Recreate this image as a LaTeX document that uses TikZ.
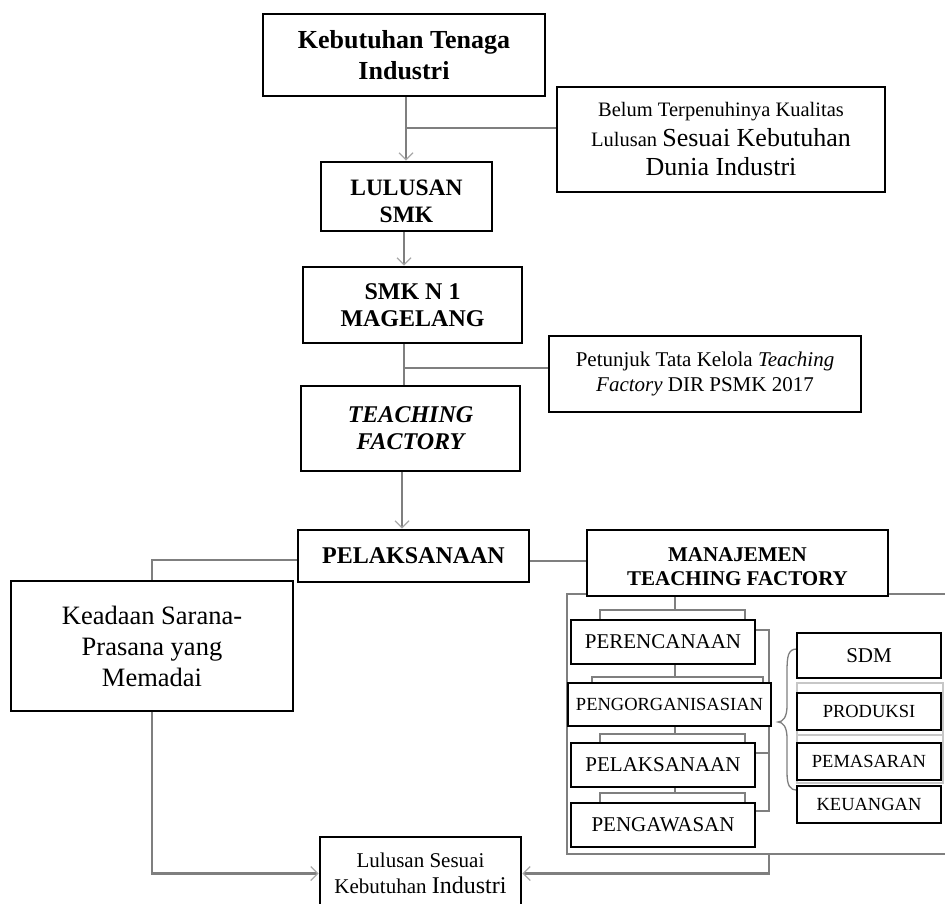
\documentclass[tikz,border=0pt]{standalone}
\usepackage{fontspec}
\setmainfont{Liberation Serif}
\usetikzlibrary{arrows.meta,backgrounds}
\definecolor{conngray}{HTML}{7F7F7F}
\definecolor{tipgray}{HTML}{A8A8A8}
\newcommand\myfs[2]{\fontsize{#1}{#2}\selectfont}
\begin{document}
\begin{tikzpicture}[x=1pt,y=-1pt,
  box/.style={draw=black,fill=white,line width=2.8pt,inner sep=0pt,align=center},
  sbox/.style={draw=black,fill=white,line width=2.4pt,inner sep=0pt,align=center},
  label text/.style={inner sep=0pt,align=center},
  connline/.style={draw=conngray,line width=2.4pt},
  thinline/.style={draw=conngray,line width=1.8pt},
  ghost/.style={draw=black!22,line width=1.4pt},
  arr/.style={connline,-{Straight Barb[length=7pt,width=14pt,line width=1.2pt,color=tipgray]}},
]
\useasboundingbox (0,0) rectangle (945,904);
\clip (0,0) rectangle (945,904);

% ---------- main nodes ----------
\node[box,minimum width=282pt,minimum height=82pt,font=\bfseries\myfs{26}{31}] (A) at (404,55) {Kebutuhan Tenaga\\Industri};
\node[box,minimum width=328pt,minimum height=105pt,font=\myfs{20.5}{29.5}] (B) at (721,139.5)
  {Belum Terpenuhinya Kualitas\\Lulusan {\myfs{26}{29.5}Sesuai Kebutuhan}\\{\myfs{26}{29.5}Dunia Industri}};
\node[box,minimum width=171pt,minimum height=69pt] (C) at (406.5,196.5) {};
\node[label text,font=\bfseries\myfs{23.5}{27}] (Ct) at ([yshift=-5pt]C.center) {LULUSAN\\SMK};
\node[box,minimum width=219pt,minimum height=76pt,font=\bfseries\myfs{24}{27}] (D) at (412.5,305) {SMK N 1\\MAGELANG};
\node[box,minimum width=312pt,minimum height=76pt,font=\myfs{21}{25}] (E) at (705,374)
  {Petunjuk Tata Kelola \textit{Teaching}\\\textit{Factory} DIR PSMK 2017};
\node[box,minimum width=219pt,minimum height=85pt,font=\bfseries\itshape\myfs{24}{27}] (F) at (410.5,428.5) {TEACHING\\FACTORY};
\node[box,minimum width=231pt,minimum height=52pt,font=\bfseries\myfs{24}{27}] (G) at (413.5,556) {PELAKSANAAN};
\node[box,minimum width=282pt,minimum height=130pt,font=\myfs{26.5}{31}] (H) at (152,646) {Keadaan Sarana-\\Prasana yang\\Memadai};
\node[box,minimum width=301pt,minimum height=66pt] (I) at (737.5,563) {};
\node[label text,font=\bfseries\myfs{21}{24}] (It) at ([yshift=-4pt]I.center) {MANAJEMEN\\TEACHING FACTORY};
\node[box,minimum width=201pt,minimum height=73pt,font=\myfs{21}{26}] (K) at (420.5,873.5)
  {Lulusan Sesuai\\Kebutuhan {\myfs{24}{26}Industri}};

% ---------- management panel ----------
\node[sbox,minimum width=184pt,minimum height=44pt,font=\myfs{21}{24}] (P1) at (663,642) {PERENCANAAN};
\node[sbox,minimum width=203pt,minimum height=43pt,font=\myfs{18.5}{22}] (P2) at (669.5,704.5) {PENGORGANISASIAN};
\node[sbox,minimum width=184pt,minimum height=44pt,font=\myfs{21}{24}] (P3) at (663,765) {PELAKSANAAN};
\node[sbox,minimum width=184pt,minimum height=44pt,font=\myfs{21}{24}] (P4) at (663,825) {PENGAWASAN};

\draw[ghost] (797,683) rectangle (943,735);
\draw[ghost] (797,735) rectangle (943,783);
\node[sbox,minimum width=144pt,minimum height=45pt,font=\myfs{21}{24}] (S1) at (869,655.5) {SDM};
\node[sbox,minimum width=144pt,minimum height=37pt,font=\myfs{18.5}{22}] (S2) at (869,711.5) {PRODUKSI};
\node[sbox,minimum width=144pt,minimum height=37pt,font=\myfs{18.5}{22}] (S3) at (869,761.5) {PEMASARAN};
\node[sbox,minimum width=144pt,minimum height=37pt,font=\myfs{18.5}{22}] (S4) at (869,804.5) {KEUANGAN};

% ---------- connectors (under the boxes) ----------
\coordinate (jAB) at (406,128);
\coordinate (jDE) at (404,368);
\coordinate (jFG) at (402,500);
\coordinate (jb) at (769,854);
\begin{scope}[on background layer]
  % spine
  \draw[arr] (A.south -| jAB) -- (C.north -| jAB);
  \draw[connline] (jAB) -- (jAB -| B.west);
  \draw[arr] (C.south -| jDE) -- (D.north -| jDE);
  \draw[connline] (D.south -| jDE) -- (F.north -| jDE);
  \draw[connline] (jDE) -- (jDE -| E.west);
  \draw[arr] (F.south -| jFG) -- (G.north -| jFG);
  % branches of PELAKSANAAN
  \draw[connline] ([yshift=-4pt]G.west) -| (H.north);
  \draw[connline] ([yshift=-5pt]G.east) -- ([yshift=-5pt]G.east -| I.west);
  % to final box
  \draw[arr] (H.south) |- (K.west);
  \draw[arr] (jb) |- (K.east);
  % outer frame of management
  \draw[connline] (945,594) -- (567,594) -- (567,854) -- (945,854);
  % tree inside
  \draw[thinline] (I.south -| 675,0) -- (675,610);
  \draw[thinline] (600,620) -- (600,610) -- (745,610) -- (745,620);
  \draw[thinline] (675,664) -- (675,677);
  \draw[thinline] (592,683) -- (592,677) -- (763,677) -- (763,683);
  \draw[thinline] (675,726) -- (675,734);
  \draw[thinline] (600,743) -- (600,734) -- (745,734) -- (745,743);
  \draw[thinline] (675,787) -- (675,793);
  \draw[thinline] (600,803) -- (600,793) -- (745,793) -- (745,803);
  \draw[thinline] ([yshift=12pt]P1.east) -- (769,630) -- (769,811) -- ([yshift=14pt]P4.east);
  \draw[thinline] ([yshift=12pt]P3.east) -- (769,753);
  % brace
  \draw[draw=conngray,line width=1.3pt] (797,649) .. controls (788,649) and (787,656) .. (787,672)
     -- (787,706) .. controls (787,717) and (783,722) .. (778,722)
     .. controls (783,722) and (787,727) .. (787,738)
     -- (787,772) .. controls (787,786) and (790,790) .. (797,790);
\end{scope}
\end{tikzpicture}
\end{document}
